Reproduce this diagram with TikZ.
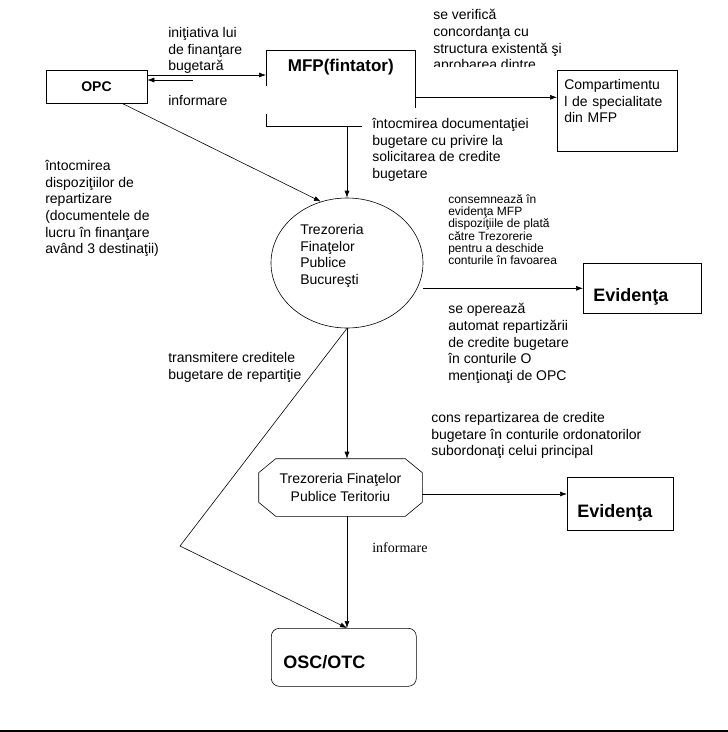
\documentclass[tikz,border=0pt]{standalone}
\usepackage{fontspec}
\setmainfont{Liberation Sans}
\newfontfamily\timesfont{Liberation Serif}
\usetikzlibrary{shapes.geometric,arrows.meta}

\begin{document}
\begin{tikzpicture}[x=1pt,y=-1pt,>={Latex[length=7pt,width=5pt]},line width=0.6pt,
    lbl/.style={inner sep=0pt,align=left,anchor=north west,font=\fontsize{14}{16.7}\selectfont},
    tiny/.style={lbl,font=\fontsize{12}{12.3}\selectfont},
    box/.style={draw,rectangle,inner sep=0pt,font=\bfseries\fontsize{18}{20}\selectfont}]
    \useasboundingbox (0,0) rectangle (728,732);
    % blocks
    \node[box,font=\bfseries\fontsize{14}{16}\selectfont,minimum width=101pt,minimum height=33pt] (opc) at (96.5,86.5) {OPC};
    \node[box,anchor=north west,minimum width=149pt,text height=21pt,text depth=55pt,font=\bfseries\fontsize{17}{20}\selectfont] (mfp) at (266,50) {MFP(fintator)};
    \node[box,anchor=north west,font=\fontsize{14}{16.7}\selectfont,align=left,text width=106pt,inner xsep=7pt,inner ysep=9pt,text depth=53pt] (comp) at (557,70) {Compartimentu\\l de specialitate\\din MFP};
    \node[box,anchor=north west,text width=98pt,inner xsep=10pt,align=left,text height=38pt,text depth=12pt] (evid1) at (583,263) {Evidenţa};
    \node[box,anchor=north west,text width=86pt,inner xsep=10pt,align=left,text height=40pt,text depth=13pt] (evid2) at (567,477) {Evidenţa};
    \node[ellipse,draw,minimum width=152pt,minimum height=130pt,inner sep=0pt] (tfpb) at (347,263) {};
    \node[lbl] (tfpbtxt) at (300,224) {Trezoreria\\Finaţelor\\Publice\\Bucureşti};
    \node[minimum width=163pt,minimum height=57pt,inner sep=0pt,align=center,font=\fontsize{14}{18}\selectfont] (tfpt) at (340.5,487.5) {Trezoreria Finaţelor\\Publice Teritoriu};
    \draw ([xshift=17pt]tfpt.north west) -- ([xshift=-17pt]tfpt.north east) -- ([yshift=-14pt]tfpt.north east)
        -- ([yshift=14pt]tfpt.south east) -- ([xshift=-17pt]tfpt.south east) -- ([xshift=17pt]tfpt.south west)
        -- ([yshift=14pt]tfpt.south west) -- ([yshift=-14pt]tfpt.north west) -- cycle;
    \node[box,rounded corners=8pt,anchor=north west,text width=121pt,inner xsep=12pt,align=left,text height=40.5pt,text depth=17.5pt] (osc) at (271,628) {OSC/OTC};
    % texts
    \node[lbl,fill=white,anchor=west,text width=104pt,minimum height=28pt] (lblinfo) at (168,100) {informare};
    \node[lbl,fill=white,inner xsep=10pt,inner ysep=10pt] (lbldoc) at (362,108) {întocmirea documentaţiei\\bugetare cu privire la\\solicitarea de credite\\bugetare};
    \node[lbl] (lblinit) at (168,27) {iniţiativa lui\\de finanţare\\bugetară};
    \begin{scope}
        \clip (425,0) rectangle (560,66);
        \node[lbl] (lblverif) at (433,9) {se verifică\\concordanţa cu\\structura existentă şi\\aprobarea dintre};
    \end{scope}
    \node[lbl] (lbldisp) at (45,160) {întocmirea\\dispoziţiilor de\\repartizare\\(documentele de\\lucru în finanţare\\având 3 destinaţii)};
    \node[tiny] (lblcons) at (448,194) {consemnează în\\evidenţa  MFP\\dispoziţiile de plată\\către Trezorerie\\pentru a deschide\\conturile în favoarea};
    \node[lbl] (lblopr) at (448,303) {se operează\\automat repartizării\\de credite bugetare\\în conturile O\\menţionaţi de OPC};
    \node[lbl] (lbltrans) at (168,352) {transmitere creditele\\bugetare de repartiţie};
    \node[lbl] (lblrep) at (431,412) {cons repartizarea de credite\\bugetare în conturile ordonatorilor\\subordonaţi celui  principal};
    \node[lbl,anchor=west,font=\timesfont\fontsize{14}{16}\selectfont] (lblinfo2) at (372,548) {informare};
    % connectors
    \draw[->] ([yshift=11.5pt]opc.east) coordinate (initstart) -- (initstart -| mfp.west);
    \coordinate (infostart) at (193,80);
    \draw[->] (infostart) -- (infostart -| opc.east);
    \draw[->] ([yshift=-9pt]mfp.east) coordinate (verifstart) -- (verifstart -| comp.west);
    \draw[->] (tfpb.north |- mfp.south) -- (tfpb.north);
    \draw[->] ([xshift=25.5pt]opc.south) -- (tfpb.113);
    \draw[->] (tfpb.east |- evid1.west) -- (evid1.west);
    \draw[->] (tfpb.south) -- (tfpb.south |- tfpt.north);
    \draw[->] ([yshift=-6.5pt]tfpt.east) coordinate (terstart) -- (terstart -| evid2.west);
    \draw[->] (tfpb.south |- tfpt.south) -- (tfpb.south |- osc.north);
    \coordinate (bend) at (180,546);
    \draw[->] (tfpb.south) -- (bend) -- (tfpb.south |- osc.north);
    \draw[line width=2.5pt] (0,731) -- (728,731);
\end{tikzpicture}
\end{document}
